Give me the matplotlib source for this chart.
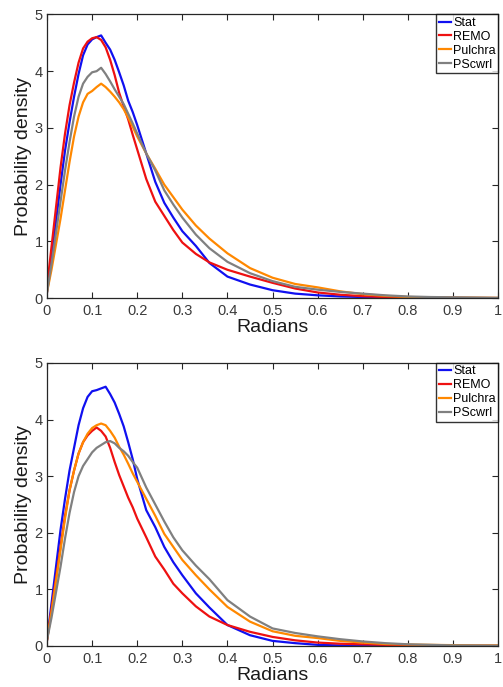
import matplotlib
matplotlib.use("Agg")
import matplotlib.pyplot as plt

plt.rcParams['font.family'] = ['Liberation Sans', 'DejaVu Sans']

x = [0, 0.01, 0.02, 0.03, 0.04, 0.05, 0.06, 0.07, 0.08, 0.09, 0.10, 0.11, 0.12,
     0.13, 0.14, 0.15, 0.16, 0.17, 0.18, 0.19, 0.20, 0.22, 0.24, 0.26, 0.28, 0.30,
     0.33, 0.36, 0.40, 0.45, 0.50, 0.55, 0.60, 0.65, 0.70, 0.75, 0.80, 0.85, 0.90,
     0.95, 1.0]

labels = ['Stat', 'REMO', 'Pulchra', 'PScwrl']
colors = ['#1010f0', '#ee1111', '#ff8800', '#808080']

# Top panel
top_stat = [0.1, 0.7, 1.35, 2.0, 2.6, 3.1, 3.55, 3.95, 4.28, 4.47, 4.56, 4.6, 4.63,
            4.5, 4.38, 4.2, 3.98, 3.75, 3.48, 3.28, 3.05, 2.55, 2.05, 1.68, 1.42, 1.18,
            0.92, 0.62, 0.38, 0.24, 0.14, 0.08, 0.05, 0.03, 0.02, 0.01, 0.008, 0.005,
            0.003, 0.002, 0.001]
top_remo = [0.2, 0.9, 1.6, 2.3, 2.9, 3.4, 3.8, 4.15, 4.4, 4.52, 4.58, 4.6, 4.55,
            4.42, 4.2, 3.93, 3.62, 3.38, 3.15, 2.88, 2.62, 2.1, 1.7, 1.45, 1.2, 0.98,
            0.78, 0.63, 0.5, 0.38, 0.27, 0.17, 0.1, 0.06, 0.035, 0.02, 0.015, 0.01,
            0.005, 0.003, 0.002]
top_pulchra = [0.1, 0.5, 0.95, 1.4, 1.9, 2.4, 2.85, 3.2, 3.45, 3.6, 3.65, 3.72, 3.78,
               3.72, 3.64, 3.55, 3.45, 3.33, 3.18, 3.02, 2.85, 2.55, 2.28, 2.0, 1.78,
               1.56, 1.28, 1.05, 0.79, 0.53, 0.36, 0.25, 0.19, 0.12, 0.07, 0.04, 0.02,
               0.015, 0.01, 0.008, 0.005]
top_pscwrl = [0.1, 0.6, 1.15, 1.7, 2.25, 2.75, 3.2, 3.55, 3.78, 3.9, 3.98, 4.0, 4.06,
              3.95, 3.82, 3.68, 3.55, 3.42, 3.25, 3.08, 2.9, 2.55, 2.25, 1.9, 1.65,
              1.42, 1.12, 0.88, 0.64, 0.44, 0.3, 0.2, 0.15, 0.11, 0.08, 0.05, 0.03,
              0.02, 0.015, 0.01, 0.005]

# Bottom panel
bot_stat = [0.1, 0.75, 1.4, 2.05, 2.6, 3.1, 3.5, 3.9, 4.2, 4.4, 4.5, 4.52, 4.55,
            4.58, 4.45, 4.3, 4.1, 3.88, 3.6, 3.3, 2.95, 2.4, 2.1, 1.75, 1.48, 1.25,
            0.93, 0.68, 0.37, 0.19, 0.09, 0.05, 0.02, 0.01, 0.005, 0.003, 0.002,
            0.001, 0.001, 0.001, 0.001]
bot_remo = [0.1, 0.65, 1.2, 1.75, 2.3, 2.75, 3.1, 3.4, 3.6, 3.72, 3.8, 3.86, 3.8,
            3.7, 3.5, 3.25, 3.02, 2.82, 2.62, 2.45, 2.25, 1.92, 1.58, 1.35, 1.1, 0.93,
            0.7, 0.52, 0.37, 0.25, 0.16, 0.1, 0.06, 0.04, 0.03, 0.02, 0.01, 0.008,
            0.005, 0.003, 0.002]
bot_pulchra = [0.1, 0.6, 1.15, 1.7, 2.25, 2.75, 3.1, 3.4, 3.6, 3.75, 3.85, 3.9, 3.93,
               3.9, 3.8, 3.68, 3.52, 3.38, 3.22, 3.05, 2.9, 2.6, 2.3, 1.98, 1.75,
               1.52, 1.25, 1.0, 0.69, 0.43, 0.26, 0.18, 0.14, 0.09, 0.06, 0.035,
               0.025, 0.02, 0.015, 0.01, 0.01]
bot_pscwrl = [0.1, 0.5, 0.95, 1.4, 1.9, 2.35, 2.72, 3.0, 3.18, 3.3, 3.42, 3.5, 3.55,
              3.6, 3.62, 3.58, 3.5, 3.44, 3.36, 3.25, 3.15, 2.8, 2.5, 2.2, 1.92,
              1.69, 1.42, 1.18, 0.81, 0.52, 0.31, 0.23, 0.17, 0.12, 0.08, 0.05, 0.03,
              0.02, 0.01, 0.008, 0.005]

xticks = [0, 0.1, 0.2, 0.3, 0.4, 0.5, 0.6, 0.7, 0.8, 0.9, 1]
xticklabels = ['0', '0.1', '0.2', '0.3', '0.4', '0.5', '0.6', '0.7', '0.8', '0.9', '1']
yticks = [0, 1, 2, 3, 4, 5]

fig = plt.figure(figsize=(5.03, 6.87), dpi=100)
ax1 = fig.add_axes([0.0934, 0.566, 0.897, 0.413])
ax2 = fig.add_axes([0.0934, 0.0597, 0.897, 0.412])

panels = [(ax1, [top_stat, top_remo, top_pulchra, top_pscwrl]),
          (ax2, [bot_stat, bot_remo, bot_pulchra, bot_pscwrl])]

for ax, series in panels:
    for ys, lab, col in zip(series, labels, colors):
        ax.plot(x, ys, color=col, lw=1.6, label=lab)
    ax.set_xlim(0, 1)
    ax.set_ylim(0, 5)
    ax.set_xticks(xticks)
    ax.set_xticklabels(xticklabels)
    ax.set_yticks(yticks)
    ax.tick_params(direction='in', top=True, right=True, length=4, width=0.8,
                   labelsize=10.5, colors='#262626', labelcolor='#3a3a3a')
    ax.tick_params(axis='x', pad=4)
    ax.tick_params(axis='y', pad=3)
    for sp in ax.spines.values():
        sp.set_color('#262626')
        sp.set_linewidth(0.9)
    ax.set_xlabel('Radians', fontsize=14, labelpad=1, color='#1a1a1a')
    ax.set_ylabel('Probability density', fontsize=14, labelpad=2, color='#1a1a1a')
    leg = ax.legend(loc='upper right', fontsize=9, frameon=True, fancybox=False,
                    borderaxespad=0, handlelength=1.0, handletextpad=0.15,
                    borderpad=0.2, labelspacing=0.15)
    leg.get_frame().set_edgecolor('black')
    leg.get_frame().set_linewidth(1.0)

fig.savefig('out.png', dpi=100)
